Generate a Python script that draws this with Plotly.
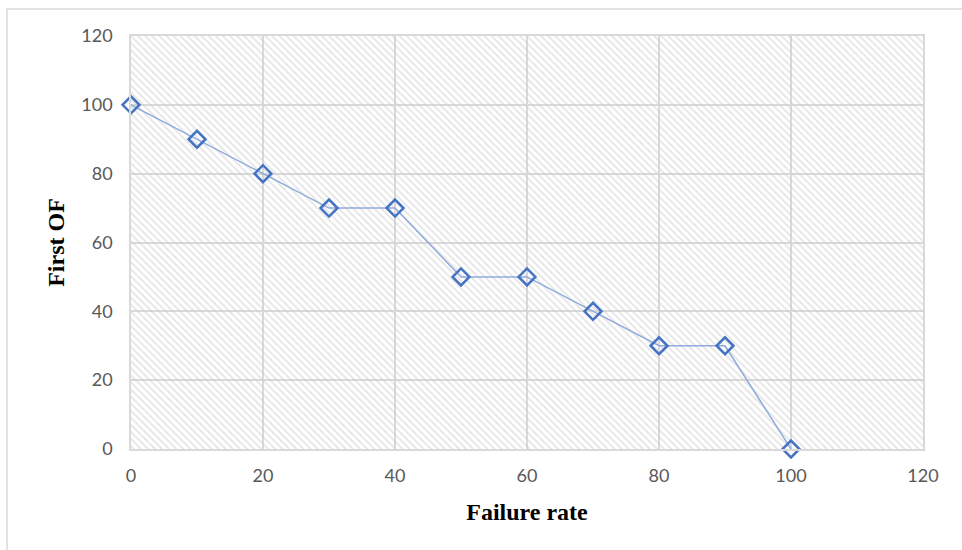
import plotly.graph_objects as go

# Failure rate (%) against the first objective function value
failure_rate = [0, 10, 20, 30, 40, 50, 60, 70, 80, 90, 100]
first_of = [100, 90, 80, 70, 70, 50, 50, 40, 30, 30, 0]

axis_ticks = [0, 20, 40, 60, 80, 100, 120]
axis_min, axis_max = 0, 120

fig = go.Figure()

# Hatched plot-area background
fig.add_trace(go.Scatter(
    x=[axis_min, axis_max, axis_max, axis_min, axis_min],
    y=[axis_min, axis_min, axis_max, axis_max, axis_min],
    mode="lines", line=dict(width=0), fill="toself",
    fillcolor="rgba(0,0,0,0)",
    fillpattern=dict(shape="\\", fgcolor="#cccccc", bgcolor="rgba(0,0,0,0)",
                     size=5, solidity=0.35),
    hoverinfo="skip", showlegend=False,
))

fig.add_trace(go.Scatter(
    x=failure_rate, y=first_of,
    mode="lines+markers",
    line=dict(color="#8FAADC", width=1.5),
    marker=dict(symbol="diamond-open", size=13, color="#4472C4",
                line=dict(color="#4472C4", width=2.5)),
    cliponaxis=False,
    showlegend=False,
))

tick_font = dict(family="Lato, 'Open Sans', sans-serif", size=18, color="#595959")
title_font = dict(family="'Liberation Serif', 'Times New Roman', serif", size=24, color="#000000")

fig.update_xaxes(
    range=[axis_min, axis_max], tickvals=axis_ticks,
    showgrid=True, gridcolor="#d9d9d9", gridwidth=1.5,
    zeroline=False, showline=True, linecolor="#d9d9d9", linewidth=1.5, mirror=True,
    ticks="", tickfont=tick_font, ticklabelstandoff=10,
    title=dict(text="<b>Failure rate</b>", font=title_font, standoff=18),
)
fig.update_yaxes(
    range=[axis_min, axis_max], tickvals=axis_ticks,
    showgrid=True, gridcolor="#d9d9d9", gridwidth=1.5,
    zeroline=False, showline=True, linecolor="#d9d9d9", linewidth=1.5, mirror=True,
    ticks="", tickfont=tick_font, ticklabelstandoff=13,
    title=dict(text="<b>First OF</b>", font=title_font, standoff=10),
)

l, r, t, b = 131, 39, 36, 101
W, H = 962, 550
pw, ph = W - l - r, H - t - b

# Thin outer chart frame
fig.add_shape(
    type="rect", xref="paper", yref="paper",
    x0=(7 - l) / pw, x1=(W + 10 - l) / pw,
    y0=-(H + 10 - t - ph) / ph, y1=1 + (t - 9) / ph,
    line=dict(color="#d9d9d9", width=1.5), layer="below",
)

fig.update_layout(
    width=W, height=H,
    margin=dict(l=l, r=r, t=t, b=b),
    paper_bgcolor="white", plot_bgcolor="white",
)

fig.write_html("out.html")
